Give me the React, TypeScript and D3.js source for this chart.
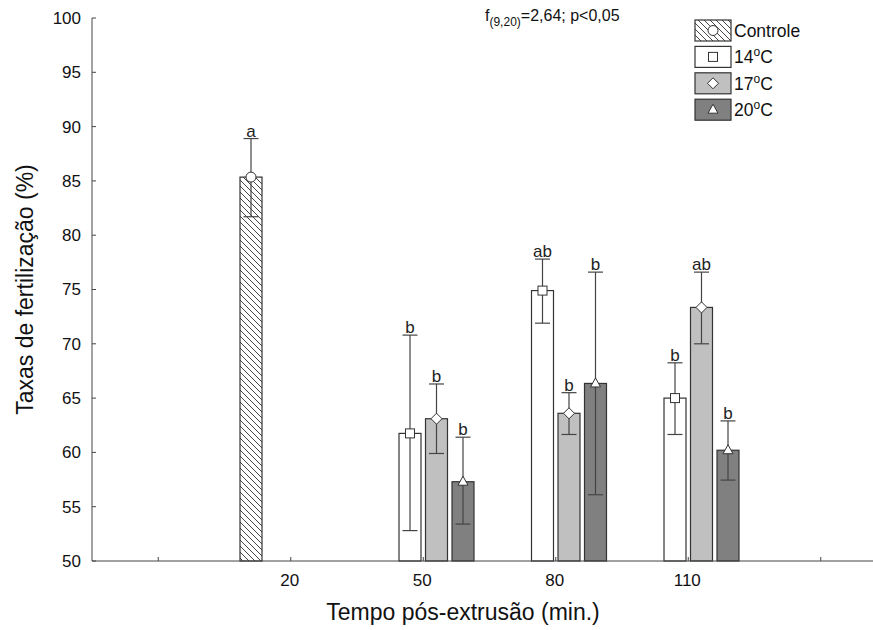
import React from "react";
import * as d3 from "d3";

const tickLabels = ["", "20", "50", "80", "110", ""];
const groupIndex = [2, 3, 4, 5]; // positions of times 20, 50, 80, 110
const seriesNames = ["Controle", "14", "17", "20"];

const controleMean = [85.35, null, null, null];
const controleLow = [81.7, null, null, null];
const controleHigh = [88.9, null, null, null];
const controleLetters = ["a", "", "", ""];

const mean14 = [null, 61.75, 74.9, 65.0];
const low14 = [null, 52.8, 71.9, 61.65];
const high14 = [null, 70.8, 77.8, 68.25];
const letters14 = ["", "b", "ab", "b"];

const mean17 = [null, 63.1, 63.6, 73.35];
const low17 = [null, 59.9, 61.65, 70.0];
const high17 = [null, 66.3, 65.5, 76.6];
const letters17 = ["", "b", "b", "ab"];

const mean20 = [null, 57.3, 66.35, 60.2];
const low20 = [null, 53.4, 56.1, 57.45];
const high20 = [null, 61.4, 76.6, 62.9];
const letters20 = ["", "b", "b", "b"];

const yTicks = [50, 55, 60, 65, 70, 75, 80, 85, 90, 95, 100];

const W = 873;
const H = 630;
const FONT = "'Liberation Sans', Arial, sans-serif";

const fills = ["url(#hatch)", "#ffffff", "#c0c0c0", "#808080"];
const markerKinds = ["circle", "square", "diamond", "triangle"];

function Marker({ kind, cx, cy }: { kind: string; cx: number; cy: number }) {
  const st = { fill: "#fff", stroke: "#333", strokeWidth: 1 };
  if (kind === "circle") return <circle cx={cx} cy={cy} r={5} {...st} />;
  if (kind === "square") return <rect x={cx - 4.5} y={cy - 4.5} width={9} height={9} {...st} />;
  if (kind === "diamond")
    return <path d={`M${cx},${cy - 5.5}L${cx + 5.5},${cy}L${cx},${cy + 5.5}L${cx - 5.5},${cy}Z`} {...st} />;
  return <path d={`M${cx},${cy - 5.5}L${cx + 5},${cy + 3.5}L${cx - 5},${cy + 3.5}Z`} {...st} />;
}

export default function App() {
  const x = d3.scaleLinear().domain([0.5, 6.5]).range([92, 887]);
  const y = d3.scaleLinear().domain([50, 100]).range([561, 18]);
  const step = x(2) - x(1);
  const sub = d3
    .scaleBand<string>()
    .domain(seriesNames)
    .range([-step * 0.4, step * 0.4])
    .paddingInner(0.17)
    .paddingOuter(0.085);

  const seriesData = [
    { means: controleMean, lows: controleLow, highs: controleHigh, letters: controleLetters },
    { means: mean14, lows: low14, highs: high14, letters: letters14 },
    { means: mean17, lows: low17, highs: high17, letters: letters17 },
    { means: mean20, lows: low20, highs: high20, letters: letters20 },
  ];

  const bars: any[] = [];
  seriesData.forEach((s, si) => {
    s.means.forEach((m, gi) => {
      if (m == null) return;
      const cx = x(groupIndex[gi]);
      const bx = cx + (sub(seriesNames[si]) as number);
      bars.push({ si, gi, m, lo: s.lows[gi], hi: s.highs[gi], letter: s.letters[gi], bx, bw: sub.bandwidth() });
    });
  });

  const legendItems = [
    { label: "Controle", sup: false },
    { label: "14", sup: true },
    { label: "17", sup: true },
    { label: "20", sup: true },
  ];

  return (
    <svg width={W} height={H} style={{ display: "block", position: "absolute", left: 0, top: 0 }} fontFamily={FONT}>
      <defs>
        <pattern id="hatch" patternUnits="userSpaceOnUse" width={6} height={6}>
          <rect width={6} height={6} fill="#fff" />
          <path d="M-1,-1L7,7M-1,5L1,7M5,-1L7,1" stroke="#333" strokeWidth={0.9} />
        </pattern>
      </defs>
      <rect width={W} height={H} fill="#fff" />

      {/* bars */}
      {bars.map((b, i) => (
        <rect
          key={"bar" + i}
          x={b.bx}
          y={y(b.m)}
          width={b.bw}
          height={y(50) - y(b.m)}
          fill={fills[b.si]}
          stroke="#333"
          strokeWidth={1.2}
        />
      ))}

      {/* error bars */}
      {bars.map((b, i) => {
        const cx = b.bx + b.bw / 2;
        return (
          <g key={"err" + i} stroke="#444" strokeWidth={1.2}>
            <line x1={cx} x2={cx} y1={y(b.lo)} y2={y(b.hi)} />
            <line x1={cx - 7.5} x2={cx + 7.5} y1={y(b.hi)} y2={y(b.hi)} />
            <line x1={cx - 7.5} x2={cx + 7.5} y1={y(b.lo)} y2={y(b.lo)} />
          </g>
        );
      })}

      {/* markers */}
      {bars.map((b, i) => (
        <Marker key={"mk" + i} kind={markerKinds[b.si]} cx={b.bx + b.bw / 2} cy={y(b.m)} />
      ))}

      {/* letters */}
      {bars.map((b, i) => (
        <text
          key={"lt" + i}
          x={b.bx + b.bw / 2}
          y={y(b.hi) - 2}
          textAnchor="middle"
          fontSize={17}
          fill="#222"
        >
          {b.letter}
        </text>
      ))}

      {/* axes */}
      <line x1={92} x2={92} y1={18} y2={561} stroke="#444" strokeWidth={1} />
      <line x1={92} x2={W} y1={561} y2={561} stroke="#444" strokeWidth={1} />
      {yTicks.map((t) => (
        <g key={"yt" + t}>
          <line x1={92} x2={96} y1={y(t)} y2={y(t)} stroke="#444" />
          <text x={81} y={y(t)} dy="0.35em" textAnchor="end" fontSize={17} fill="#111">
            {t}
          </text>
        </g>
      ))}
      {tickLabels.map((l, i) => (
        <g key={"xt" + i}>
          <line x1={x(i + 1)} x2={x(i + 1)} y1={561} y2={557} stroke="#444" />
          <text x={x(i + 1) - 1} y={586} textAnchor="middle" fontSize={17} fill="#111">
            {l}
          </text>
        </g>
      ))}

      <text x={463} y={620} textAnchor="middle" fontSize={23} fill="#111">
        Tempo pós-extrusão (min.)
      </text>
      <text
        transform={`translate(33,${(y(50) + y(100)) / 2}) rotate(-90)`}
        textAnchor="middle"
        fontSize={23}
        fill="#111"
      >
        Taxas de fertilização (%)
      </text>

      <text x={485} y={21} fontSize={16} fill="#111">
        f
        <tspan fontSize={12} dy={5}>
          (9,20)
        </tspan>
        <tspan dy={-5}>=2,64; p&lt;0,05</tspan>
      </text>

      {/* legend */}
      {legendItems.map((it, i) => {
        const ly = 20 + i * 26.4;
        return (
          <g key={"lg" + i}>
            <rect x={695} y={ly} width={36} height={21} fill={fills[i]} stroke="#333" strokeWidth={1.2} />
            <Marker kind={markerKinds[i]} cx={713} cy={ly + 10.5} />
            <text x={734} y={ly + 17} fontSize={17.5} fill="#111">
              {it.label}
              {it.sup ? (
                <>
                  <tspan fontSize={12} dy={-7}>
                    o
                  </tspan>
                  <tspan dy={7}>C</tspan>
                </>
              ) : null}
            </text>
          </g>
        );
      })}
    </svg>
  );
}
